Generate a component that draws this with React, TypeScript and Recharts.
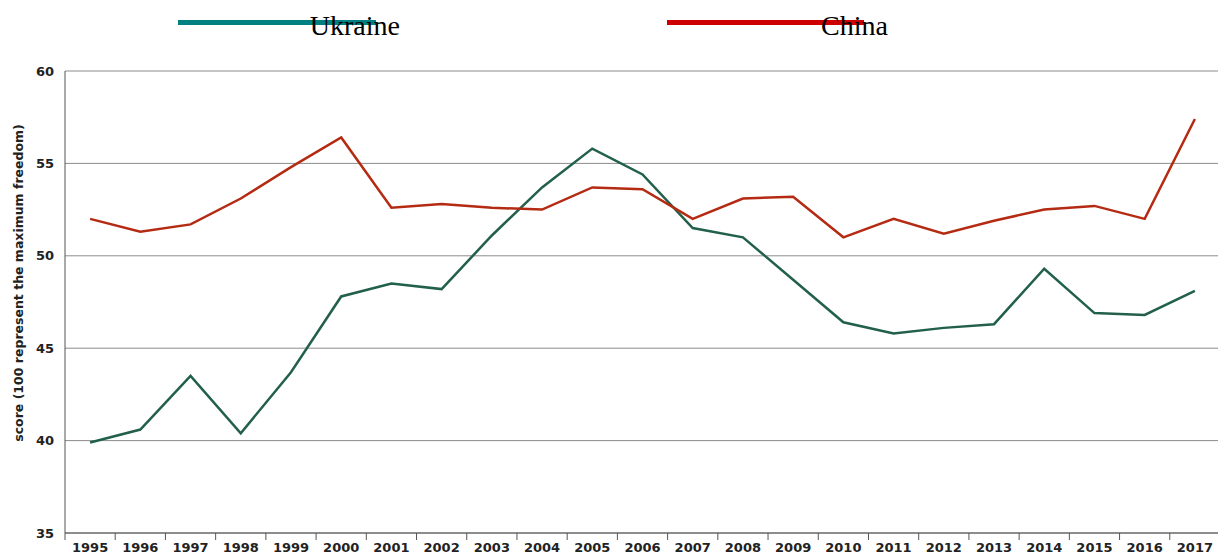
import { LineChart, Line, XAxis, YAxis, CartesianGrid, Legend } from "recharts";

const years = [
  "1995", "1996", "1997", "1998", "1999", "2000", "2001", "2002", "2003", "2004", "2005", "2006",
  "2007", "2008", "2009", "2010", "2011", "2012", "2013", "2014", "2015", "2016", "2017",
];
const ukraine = [
  39.9, 40.6, 43.5, 40.4, 43.7, 47.8, 48.5, 48.2, 51.1, 53.7, 55.8, 54.4,
  51.5, 51.0, 48.7, 46.4, 45.8, 46.1, 46.3, 49.3, 46.9, 46.8, 48.1,
];
const china = [
  52.0, 51.3, 51.7, 53.1, 54.8, 56.4, 52.6, 52.8, 52.6, 52.5, 53.7, 53.6,
  52.0, 53.1, 53.2, 51.0, 52.0, 51.2, 51.9, 52.5, 52.7, 52.0, 57.4,
];
const yTicks = [35, 40, 45, 50, 55, 60];

const data = years.map((year, i) => ({ year, ukraine: ukraine[i], china: china[i] }));

const CHART_W = 1220;
const AXIS_W = 65;
const BAND = (CHART_W - AXIS_W) / years.length;
const TICK_FONT = "'DejaVu Sans', Verdana, sans-serif";
const SERIF = "'Liberation Serif', 'Times New Roman', serif";

const XTick = (props: any) => {
  const { x, y, payload } = props;
  return (
    <g>
      <line x1={x - BAND / 2} x2={x - BAND / 2} y1={y - 10} y2={y - 3} stroke="#555" />
      <text x={x} y={y} dy="0.71em" textAnchor="middle" fontSize={13} fontWeight="bold" fontFamily={TICK_FONT} fill="#222">
        {payload.value}
      </text>
    </g>
  );
};

const LegendBox = () => (
  <svg width={1218} height={50}>
    <line x1={178} x2={376} y1={22.5} y2={22.5} stroke="#008080" strokeWidth={5} />
    <text x={400} y={35} textAnchor="end" fontSize={28} fontFamily={SERIF} fill="#000">Ukraine</text>
    <line x1={667} x2={864} y1={22.5} y2={22.5} stroke="#cc0000" strokeWidth={5} />
    <text x={888} y={35} textAnchor="end" fontSize={28} fontFamily={SERIF} fill="#000">China</text>
  </svg>
);

const YLabel = () => (
  <text
    x={18}
    y={283}
    transform="rotate(-90, 18, 283)"
    textAnchor="middle"
    dominantBaseline="central"
    fontSize={12.5}
    fontWeight="bold"
    fontFamily={TICK_FONT}
    fill="#222"
  >
    score (100 represent the maximum freedom)
  </text>
);

export default function App() {
  return (
    <div style={{ position: "absolute", left: 0, top: 0, width: 1218, height: 556, overflow: "hidden", background: "#fff" }}>
      <LineChart width={CHART_W} height={556} data={data} margin={{ top: 71, right: 0, bottom: 0, left: 0 }}>
        <CartesianGrid vertical={false} stroke="#8c8c8c" />
        <XAxis
          dataKey="year"
          scale="band"
          height={23}
          interval={0}
          tickLine={false}
          tickSize={6}
          tickMargin={4}
          stroke="#555"
          tick={<XTick />}
        />
        <YAxis
          domain={[35, 60]}
          ticks={yTicks}
          width={AXIS_W}
          tickLine={false}
          tickMargin={5}
          stroke="#555"
          tick={{ fontSize: 13, fontWeight: "bold", fontFamily: TICK_FONT, fill: "#222" }}
          label={<YLabel />}
        />
        <Legend layout="horizontal" verticalAlign="middle" align="center" wrapperStyle={{ top: 0, left: 0 }} content={<LegendBox />} />
        <Line dataKey="ukraine" name="Ukraine" stroke="#22604a" strokeWidth={2.5} dot={false} isAnimationActive={false} />
        <Line dataKey="china" name="China" stroke="#b52a12" strokeWidth={2.5} dot={false} isAnimationActive={false} />
      </LineChart>
    </div>
  );
}
